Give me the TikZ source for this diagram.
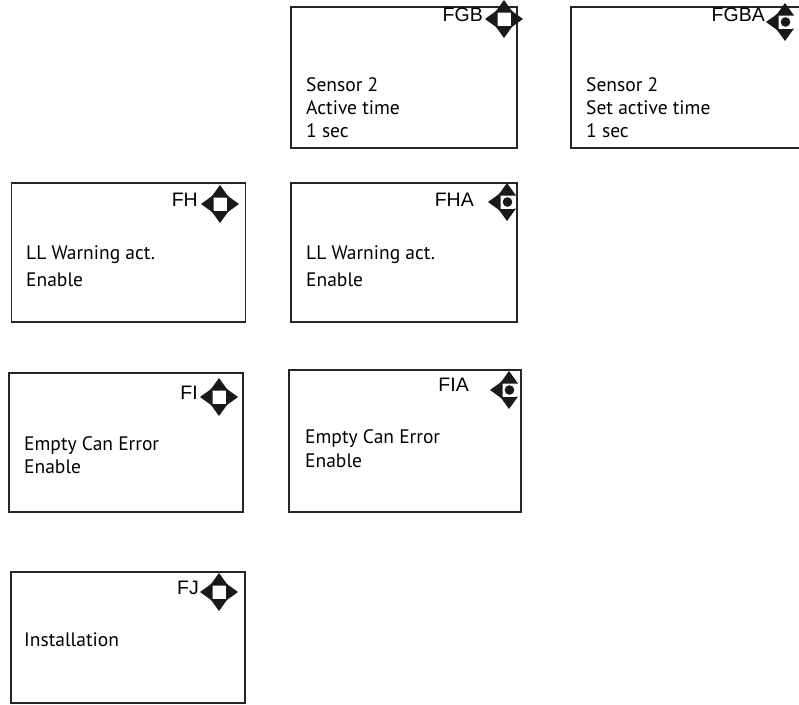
\documentclass[tikz,border=0pt]{standalone}
\usepackage{fontspec}
\setmainfont{PT Sans}
\newfontfamily\labfont{Liberation Sans}
\tikzset{
  screen/.style={draw=black!85, line width=1.2pt, fill=white, inner sep=0pt, minimum width=#1},
  lab/.style={anchor=mid east, inner sep=0pt, font=\labfont\fontsize{19.5}{19.5}\selectfont},
  body/.style={anchor=mid west, inner sep=0pt, font=\fontsize{19.5}{19.5}\selectfont},
  quad/.pic={
    \fill[black!90] (-9,-6.5)--(9,-6.5)--(0,-19)--cycle;
    \fill[black!90] (-9,6.5)--(9,6.5)--(0,19)--cycle;
    \fill[black!90] (-6.5,-9)--(-6.5,9)--(-19,0)--cycle;
    \fill[black!90] (6.5,-9)--(6.5,9)--(19,0)--cycle;
    \fill[white] (-6.5,-6.5) rectangle (6.5,6.5);
  },
  tri/.pic={
    \fill[black!90] (-9,-6.5)--(9,-6.5)--(0,-19)--cycle;
    \fill[black!90] (-9,6.5)--(9,6.5)--(0,19)--cycle;
    \fill[black!90] (-6.5,-9)--(-6.5,9)--(-19,0)--cycle;
    \fill[white] (-6.5,-6.5) rectangle (6.5,6.5);
    \fill[black!90] (0.5,0) circle (4.8);
  }
}
\begin{document}
\begin{tikzpicture}[x=1pt,y=-1pt]
\useasboundingbox (0,0) rectangle (799,704);
% boxes
\node[screen=226pt, minimum height=141pt] (fgb) at (404,77.5) {};
\node[screen=230pt, minimum height=141pt] (fgba) at (686,77.5) {};
\node[screen=234pt, minimum height=139pt] (fh) at (128.5,252.5) {};
\node[screen=226pt, minimum height=139pt] (fha) at (404,252.5) {};
\node[screen=234pt, minimum height=139pt] (fi) at (126,442.5) {};
\node[screen=232pt, minimum height=142pt] (fia) at (405,441) {};
\node[screen=234pt, minimum height=131pt] (fj) at (128,637.5) {};
% FGB
\node[lab] (fgbl) at (483,19) {FGB};
\pic at (504,19) {quad};
\node[body] (fgb1) at (306,89) {Sensor 2};
\node[body] (fgb2) at (306,112) {Active time};
\node[body] (fgb3) at (306,135) {1 sec};
% FGBA
\node[lab] (fgbal) at (765,19) {FGBA};
\pic at (785,22) {tri};
\node[body] (fgba1) at (586,89) {Sensor 2};
\node[body] (fgba2) at (586,112) {Set active time};
\node[body] (fgba3) at (586,135) {1 sec};
% FH
\node[lab] (fhl) at (198,204) {FH};
\pic at (220,204) {quad};
\node[body] (fh1) at (26,257) {LL Warning act.};
\node[body] (fh2) at (26,284) {Enable};
% FHA
\node[lab] (fhal) at (474,204) {FHA};
\pic at (507,202) {tri};
\node[body] (fha1) at (306,257) {LL Warning act.};
\node[body] (fha2) at (306,284) {Enable};
% FI
\node[lab] (fil) at (198,397) {FI};
\pic at (219,397) {quad};
\node[body] (fi1) at (24,448) {Empty Can Error};
\node[body] (fi2) at (24,471) {Enable};
% FIA
\node[lab] (fial) at (469,389) {FIA};
\pic at (509,390) {tri};
\node[body] (fia1) at (305,441) {Empty Can Error};
\node[body] (fia2) at (305,465) {Enable};
% FJ
\node[lab] (fjl) at (199,592) {FJ};
\pic at (219,592) {quad};
\node[body] (fj1) at (24,644) {Installation};
\end{tikzpicture}
\end{document}
